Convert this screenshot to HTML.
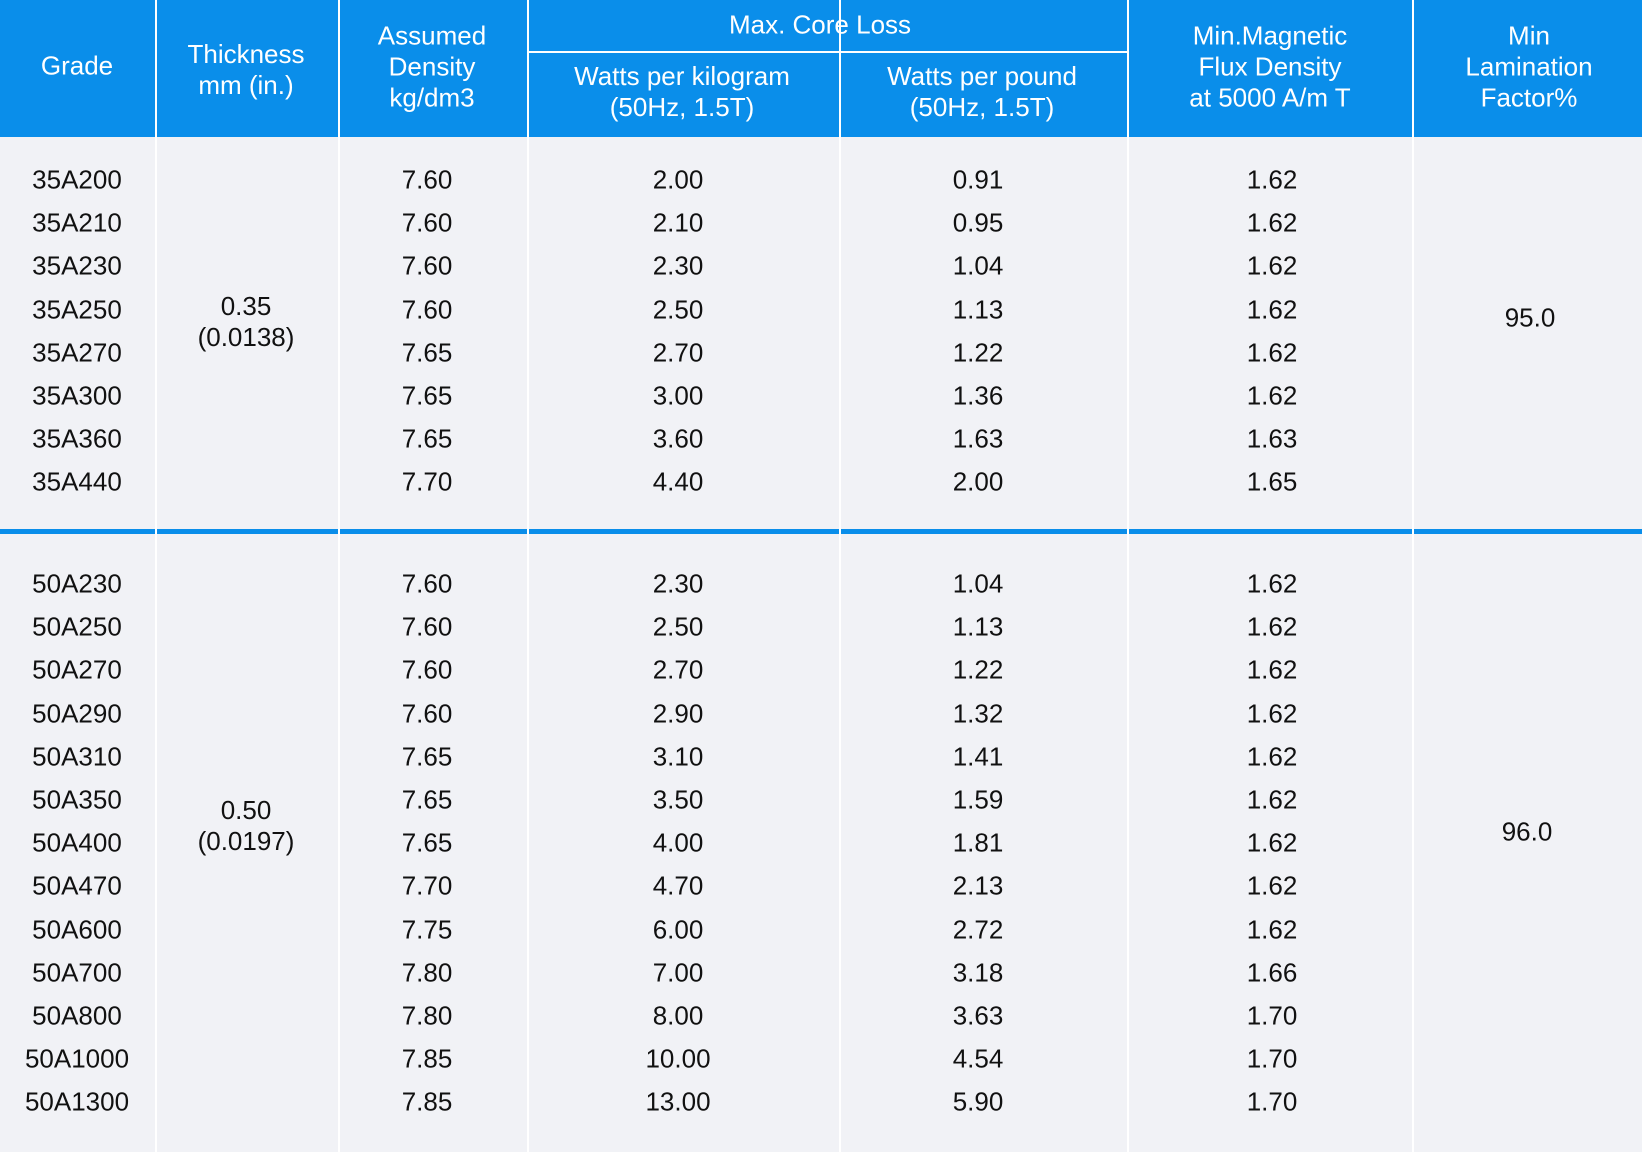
<!DOCTYPE html>
<html><head><meta charset="utf-8"><style>
body{margin:0;width:1642px;height:1152px;background:#fff;font-family:"Liberation Sans",Arial,sans-serif;position:relative;overflow:hidden}
.t{position:absolute;transform:translate(-50%,-50%);white-space:nowrap;font-size:26px;color:#111;text-align:center;line-height:31px}
.h{color:#fff}
.r{position:absolute}
</style></head><body>
<div class="r" style="left:0;top:137px;width:1642px;height:1015px;background:#f1f2f6"></div>
<div class="r" style="left:0;top:0;width:1642px;height:137px;background:#0a8eea"></div>
<div class="r" style="left:0;top:529px;width:1642px;height:5px;background:#0a8eea"></div>
<div id="cols"></div>
<div class="r" style="left:527px;top:51px;width:600px;height:2px;background:#fff"></div>
<div class="t h" style="left:77px;top:66px">Grade</div>
<div class="t h" style="left:246px;top:70px">Thickness<br>mm (in.)</div>
<div class="t h" style="left:432px;top:67px">Assumed<br>Density<br>kg/dm3</div>
<div class="t h" style="left:820px;top:25px">Max. Core Loss</div>
<div class="t h" style="left:682px;top:92px">Watts per kilogram<br>(50Hz, 1.5T)</div>
<div class="t h" style="left:982px;top:92px">Watts per pound<br>(50Hz, 1.5T)</div>
<div class="t h" style="left:1270px;top:67px">Min.Magnetic<br>Flux Density<br>at 5000 A/m T</div>
<div class="t h" style="left:1529px;top:67px">Min<br>Lamination<br>Factor%</div>
<div class="t" style="left:246px;top:322px">0.35<br>(0.0138)</div>
<div class="t" style="left:246px;top:826px">0.50<br>(0.0197)</div>
<div class="t" style="left:1530px;top:318px">95.0</div>
<div class="t" style="left:1527px;top:832px">96.0</div>
<div id="rows"></div>
<script>
const grades1=["35A200","35A210","35A230","35A250","35A270","35A300","35A360","35A440"];
const density1=["7.60","7.60","7.60","7.60","7.65","7.65","7.65","7.70"];
const wkg1=["2.00","2.10","2.30","2.50","2.70","3.00","3.60","4.40"];
const wlb1=["0.91","0.95","1.04","1.13","1.22","1.36","1.63","2.00"];
const flux1=["1.62","1.62","1.62","1.62","1.62","1.62","1.63","1.65"];
const grades2=["50A230","50A250","50A270","50A290","50A310","50A350","50A400","50A470","50A600","50A700","50A800","50A1000","50A1300"];
const density2=["7.60","7.60","7.60","7.60","7.65","7.65","7.65","7.70","7.75","7.80","7.80","7.85","7.85"];
const wkg2=["2.30","2.50","2.70","2.90","3.10","3.50","4.00","4.70","6.00","7.00","8.00","10.00","13.00"];
const wlb2=["1.04","1.13","1.22","1.32","1.41","1.59","1.81","2.13","2.72","3.18","3.63","4.54","5.90"];
const flux2=["1.62","1.62","1.62","1.62","1.62","1.62","1.62","1.62","1.62","1.66","1.70","1.70","1.70"];
const colX=[155,338,527,839,1127,1412];
const cont=document.getElementById('cols');
colX.forEach(x=>{
  const h=document.createElement('div');h.className='r';
  
  
  h.style.cssText=`left:${x}px;top:0;width:2px;height:1152px;background:#fff`;
  cont.appendChild(h);
  const s=document.createElement('div');s.className='r';
  
  
  s.style.cssText=`left:${x}px;top:529px;width:2px;height:5px;background:#fff`;
  cont.appendChild(s);
});
const centers=[77,427,678,978,1272];
const rows=document.getElementById('rows');
function add(g,d,k,l,f,y0){
  g.forEach((_,i)=>{
    const y=y0+i*43.2;
    [g[i],d[i],k[i],l[i],f[i]].forEach((v,j)=>{
      const e=document.createElement('div');e.className='t';
      
      
      e.style.left=centers[j]+'px';e.style.top=y+'px';
      e.textContent=v;rows.appendChild(e);
    });
  });
}
add(grades1,density1,wkg1,wlb1,flux1,180);
add(grades2,density2,wkg2,wlb2,flux2,584);
</script>
</body></html>
